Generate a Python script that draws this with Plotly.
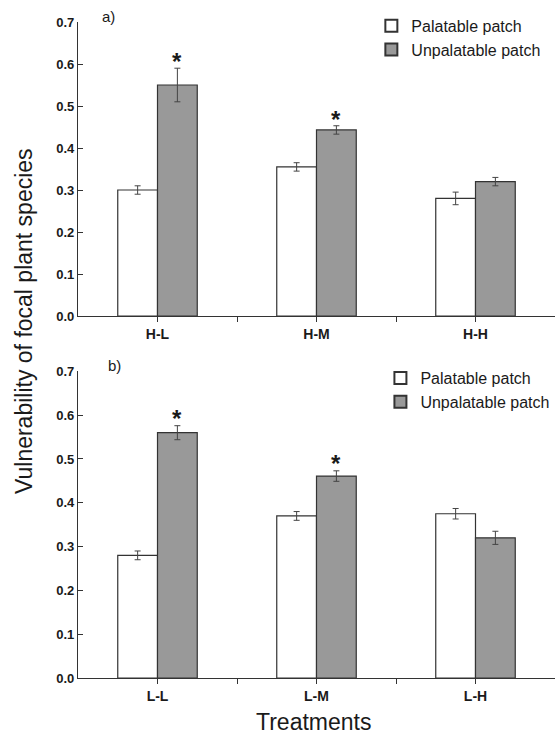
import plotly.graph_objects as go

# ---- data ----
top_categories = ["H-L", "H-M", "H-H"]
bottom_categories = ["L-L", "L-M", "L-H"]
series_names = ["Palatable patch", "Unpalatable patch"]

top_palatable = [0.300, 0.355, 0.280]
top_palatable_err = [0.010, 0.010, 0.015]
top_unpalatable = [0.550, 0.443, 0.320]
top_unpalatable_err = [0.040, 0.010, 0.010]
top_sig = [True, True, False]

bottom_palatable = [0.280, 0.370, 0.375]
bottom_palatable_err = [0.010, 0.010, 0.012]
bottom_unpalatable = [0.560, 0.461, 0.320]
bottom_unpalatable_err = [0.016, 0.012, 0.015]
bottom_sig = [True, True, False]

y_tick_values = [0.0, 0.1, 0.2, 0.3, 0.4, 0.5, 0.6, 0.7]
panel_labels = ["a)", "b)"]
y_title = "Vulnerability of focal plant species"
x_title = "Treatments"

# ---- styling ----
FONT = "Arial, Liberation Sans, sans-serif"
AXIS_COLOR = "#333333"
TEXT_COLOR = "#1a1a1a"
PAL_COLOR = "#ffffff"
UNPAL_COLOR = "#999999"
ERR_COLOR = "#444444"

fig = go.Figure()

panels = [
    dict(cats=top_categories, pal=top_palatable, pal_e=top_palatable_err,
         unp=top_unpalatable, unp_e=top_unpalatable_err, sig=top_sig,
         xa="x", ya="y", legend="legend"),
    dict(cats=bottom_categories, pal=bottom_palatable, pal_e=bottom_palatable_err,
         unp=bottom_unpalatable, unp_e=bottom_unpalatable_err, sig=bottom_sig,
         xa="x2", ya="y2", legend="legend2"),
]

for p in panels:
    xs = list(range(len(p["cats"])))
    for name, vals, errs, col in [
        (series_names[0], p["pal"], p["pal_e"], PAL_COLOR),
        (series_names[1], p["unp"], p["unp_e"], UNPAL_COLOR),
    ]:
        fig.add_trace(go.Bar(
            x=xs, y=vals, name=name, xaxis=p["xa"], yaxis=p["ya"],
            legend=p["legend"],
            marker=dict(color=col, line=dict(color=AXIS_COLOR, width=1.2)),
            error_y=dict(type="data", array=errs, visible=True,
                         color=ERR_COLOR, thickness=1, width=3),
        ))
    # significance asterisks above unpalatable bars
    for i, s in enumerate(p["sig"]):
        if s:
            fig.add_annotation(
                x=i + 0.125, y=p["unp"][i] + p["unp_e"][i] + 0.027,
                xref=p["xa"], yref=p["ya"], text="<b>*</b>",
                showarrow=False, yanchor="middle", yshift=-5,
                font=dict(family=FONT, size=24, color=TEXT_COLOR),
            )

def xaxis_cfg(cats, anchor):
    tv, tt = [], []
    for i, c in enumerate(cats):
        tv.append(i); tt.append(f"<b>{c}</b>")
        if i < len(cats) - 1:
            tv.append(i + 0.5); tt.append("")
    return dict(range=[-0.5, len(cats) - 0.5], tickvals=tv, ticktext=tt,
                showline=True, linecolor=AXIS_COLOR, linewidth=1.3,
                ticks="outside", ticklen=5, tickcolor=AXIS_COLOR, tickwidth=1.2,
                showgrid=False, zeroline=False, anchor=anchor, domain=[0, 1],
                automargin=False,
                tickfont=dict(family=FONT, size=14, color=TEXT_COLOR))

def yaxis_cfg(domain, anchor):
    return dict(range=[0, 0.7], tickvals=y_tick_values,
                ticktext=[f"<b>{v:.1f}</b>" for v in y_tick_values],
                showline=True, linecolor=AXIS_COLOR, linewidth=1.3,
                ticks="inside", ticklen=5, tickcolor=AXIS_COLOR, tickwidth=1.2,
                showgrid=False, zeroline=False, anchor=anchor, domain=domain,
                automargin=False,
                tickfont=dict(family=FONT, size=13, color=TEXT_COLOR))

legend_common = dict(
    font=dict(family=FONT, size=16, color=TEXT_COLOR),
    bgcolor="rgba(0,0,0,0)", tracegroupgap=0, itemsizing="constant",
    xanchor="left", yanchor="top", itemwidth=30,
)

fig.update_layout(
    width=556, height=738,
    margin=dict(l=78, r=1, t=22, b=60, autoexpand=False),
    paper_bgcolor="white", plot_bgcolor="white",
    barmode="group", bargap=0.5, bargroupgap=0,
    xaxis=xaxis_cfg(top_categories, "y"),
    yaxis=yaxis_cfg([0.5518, 1.0], "x"),
    xaxis2=xaxis_cfg(bottom_categories, "y2"),
    yaxis2=yaxis_cfg([0.0, 0.4674], "x2"),
    legend=dict(x=0.615, y=1.020, **legend_common),
    legend2=dict(x=0.634, y=0.483, **legend_common),
    font=dict(family=FONT, color=TEXT_COLOR),
)

# panel labels
fig.add_annotation(x=0.046, y=1.008, xref="paper", yref="paper", text=panel_labels[0],
                   showarrow=False, xanchor="left", yanchor="middle",
                   font=dict(family=FONT, size=15, color=TEXT_COLOR))
fig.add_annotation(x=0.059, y=0.477, xref="paper", yref="paper", text=panel_labels[1],
                   showarrow=False, xanchor="left", yanchor="middle",
                   font=dict(family=FONT, size=15, color=TEXT_COLOR))

# shared axis titles
fig.add_annotation(x=-0.1132, y=0.5442, xref="paper", yref="paper", text=y_title,
                   textangle=-90, showarrow=False, xanchor="center", yanchor="middle",
                   font=dict(family=FONT, size=23, color=TEXT_COLOR))
fig.add_annotation(x=0.4937, y=-0.0900, xref="paper", yref="paper", text=x_title,
                   showarrow=False, xanchor="center", yanchor="bottom",
                   font=dict(family=FONT, size=23, color=TEXT_COLOR))

fig.write_html(
    "out.html",
    config={"displayModeBar": False},
    post_script="document.body.style.margin='0';document.body.style.overflow='hidden';",
)
